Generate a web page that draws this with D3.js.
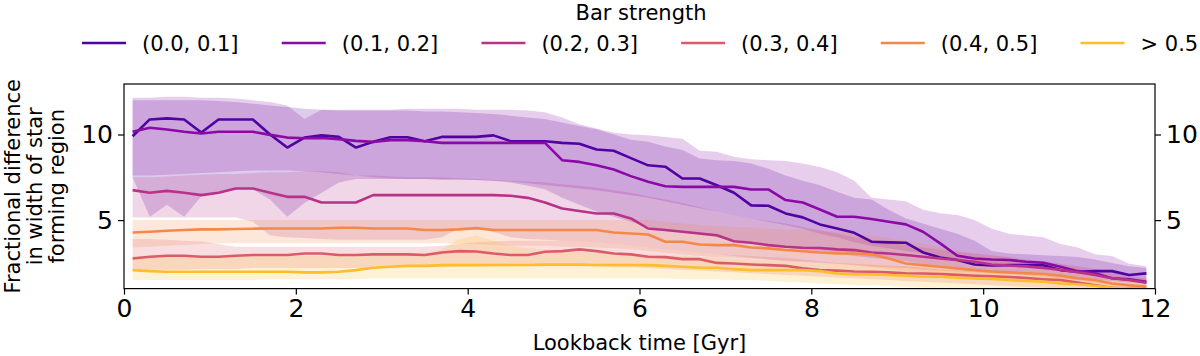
<!DOCTYPE html>
<html>
<head>
<meta charset="utf-8">
<script src="https://cdn.jsdelivr.net/npm/d3@7"></script>
<style>
  body { margin: 0; background: #fff; }
  svg { display: block; font-family: "DejaVu Sans", sans-serif; }
</style>
</head>
<body>
<div id="chart"></div>
<script>
// lookback time grid [Gyr]
const times = [0.1,0.3,0.5,0.7,0.9,1.1,1.3,1.5,1.7,1.9,
  2.1,2.3,2.5,2.7,2.9,3.1,3.3,3.5,3.7,3.9,
  4.1,4.3,4.5,4.7,4.9,5.1,5.3,5.5,5.7,5.9,
  6.1,6.3,6.5,6.7,6.9,7.1,7.3,7.5,7.7,7.9,
  8.1,8.3,8.5,8.7,8.9,9.1,9.3,9.5,9.7,9.9,
  10.1,10.3,10.5,10.7,10.9,11.1,11.3,11.5,11.7,11.9]

const categories = ["(0.0, 0.1]", "(0.1, 0.2]", "(0.2, 0.3]", "(0.3, 0.4]", "(0.4, 0.5]", "> 0.5"]
const xTicks = [0, 2, 4, 6, 8, 10, 12]
const yTicks = [5, 10]

// medians
const med1 = [9.9,10.88,10.94,10.88,10.12,10.88,10.88,10.88,10.0,9.24,
  9.82,9.95,9.86,9.24,9.57,9.84,9.84,9.6,9.86,9.86,
  9.86,9.95,9.61,9.61,9.61,9.51,9.46,9.12,9.05,8.62,
  8.2,8.12,7.43,7.43,7.04,6.6,5.86,5.84,5.39,5.16,
  4.75,4.51,4.26,3.74,3.7,3.68,3.11,2.82,2.67,2.41,
  2.35,2.37,2.37,2.37,2.08,1.98,2.02,2.02,1.79,1.89]
const med2 = [10.16,10.39,10.29,10.16,10.06,10.16,10.16,10.16,9.98,9.82,
  9.78,9.8,9.73,9.63,9.57,9.67,9.67,9.61,9.51,9.51,
  9.51,9.51,9.51,9.51,9.51,8.5,8.4,8.2,7.96,7.57,
  7.24,6.98,6.94,6.94,6.94,6.94,6.79,6.79,6.17,6.03,
  5.62,5.2,5.2,5.06,4.9,4.75,4.32,3.64,2.92,2.76,
  2.7,2.67,2.57,2.51,2.28,2.02,1.89,1.6,1.54,1.4]
const med3 = [6.75,6.6,6.71,6.6,6.46,6.6,6.85,6.85,6.6,6.36,
  6.36,6.03,6.03,6.03,6.46,6.46,6.46,6.46,6.46,6.46,
  6.46,6.46,6.42,6.3,6.03,5.68,5.53,5.39,5.39,5.1,
  4.51,4.42,4.32,4.22,4.12,3.77,3.68,3.54,3.44,3.39,
  3.37,3.29,3.25,3.11,3.05,2.96,2.86,2.76,2.67,2.57,
  2.41,2.35,2.3,2.2,2.1,1.95,1.8,1.6,1.5,1.35]
const med4 = [2.76,2.86,2.92,2.92,2.86,2.86,2.92,2.96,2.96,2.96,
  3.05,3.05,2.96,2.96,3.0,3.0,3.0,2.96,3.11,3.19,
  3.17,3.05,2.96,2.96,3.15,3.19,3.29,3.19,3.05,3.0,
  2.86,2.84,2.72,2.72,2.5,2.47,2.41,2.37,2.33,2.18,
  2.08,2.05,2.0,1.98,1.95,1.9,1.88,1.85,1.8,1.75,
  1.72,1.68,1.62,1.55,1.5,1.35,1.2,1.05,1.0,0.95]
const med5 = [4.28,4.32,4.38,4.42,4.46,4.46,4.48,4.5,4.51,4.51,
  4.51,4.51,4.55,4.55,4.51,4.51,4.51,4.42,4.42,4.46,
  4.53,4.42,4.42,4.42,4.42,4.42,4.42,4.42,4.28,4.22,
  4.16,3.74,3.74,3.58,3.54,3.54,3.4,3.35,3.25,3.19,
  3.11,3.05,3.05,3.0,2.76,2.47,2.37,2.28,2.18,2.08,
  2.0,1.95,1.9,1.85,1.75,1.6,1.5,1.3,1.2,1.1]
const med6 = [2.08,2.02,1.98,1.98,1.98,1.98,1.98,1.98,1.98,1.98,
  1.95,1.95,1.98,2.08,2.22,2.28,2.33,2.33,2.37,2.37,
  2.37,2.38,2.38,2.38,2.4,2.4,2.4,2.38,2.38,2.38,
  2.37,2.33,2.28,2.22,2.22,2.14,2.08,2.08,2.08,2.08,
  2.02,1.88,1.83,1.83,1.79,1.75,1.69,1.69,1.63,1.6,
  1.56,1.5,1.44,1.4,1.3,1.25,1.17,1.05,1.0,0.95]

// upper edges of the shaded spread
const hi1 = [12.0,12.0,12.0,12.0,12.0,11.95,11.9,11.8,11.7,11.6,
  11.5,11.45,11.4,11.4,11.4,11.4,11.4,11.35,11.35,11.3,
  11.25,11.2,11.1,11.0,10.9,10.7,10.5,10.3,10.0,9.7,
  9.57,9.3,9.1,8.6,8.5,8.45,8.3,8.0,7.6,7.3,
  7.04,6.65,6.3,6.2,5.6,5.1,4.8,4.5,4.2,3.8,
  3.2,3.05,3.0,2.95,2.9,2.85,2.7,2.5,2.3,2.2]
const hi2 = [12.15,12.15,12.2,12.2,12.15,12.15,12.1,12.0,11.9,11.7,
  10.9,11.45,11.45,11.45,11.45,11.45,11.5,11.5,11.5,11.5,
  11.45,11.45,11.45,11.4,11.3,11.0,10.6,10.35,10.1,10.0,
  9.96,9.85,9.75,9.05,9.0,8.7,8.55,8.5,8.46,8.3,
  8.1,7.8,7.3,6.3,6.2,6.1,5.6,5.4,5.3,5.0,
  4.5,4.2,4.1,4.0,3.6,3.4,3.0,2.9,2.45,2.3]
const hi3 = [7.5,7.5,7.55,7.6,7.65,7.7,7.7,7.75,7.8,7.8,
  7.85,7.85,7.8,7.6,7.6,7.55,7.5,7.5,7.5,7.45,
  7.4,7.35,7.3,7.25,7.2,7.1,7.0,6.9,6.75,6.6,
  6.4,6.2,6.0,5.75,5.5,5.3,5.1,4.95,4.8,4.6,
  4.4,4.2,4.0,3.85,3.7,3.55,3.4,3.25,3.15,3.05,
  2.95,2.85,2.7,2.6,2.45,2.3,2.15,1.95,1.75,1.6]
const hi4 = [3.9,3.9,3.85,3.8,3.75,3.6,3.45,3.45,3.45,3.45,
  3.45,3.45,3.45,3.45,3.45,3.45,3.45,3.45,3.5,3.6,
  3.7,3.75,3.8,3.8,3.8,3.8,3.75,3.7,3.6,3.5,
  3.4,3.3,3.2,3.1,3.0,2.95,2.9,2.85,2.8,2.7,
  2.6,2.5,2.45,2.4,2.35,2.3,2.2,2.1,2.05,2.0,
  1.95,1.9,1.85,1.75,1.7,1.6,1.45,1.3,1.2,1.1]
const hi5 = [5.0,5.0,5.0,5.0,5.0,5.0,5.0,5.0,5.0,5.0,
  5.0,5.0,5.0,5.0,5.0,5.0,5.0,5.0,5.0,5.0,
  5.0,5.0,5.0,5.0,5.0,5.0,5.0,5.0,5.0,5.0,
  5.0,4.9,4.8,4.7,4.65,4.6,4.55,4.5,4.45,4.45,
  4.4,4.3,4.2,4.1,3.95,3.8,3.6,3.4,3.2,3.05,
  2.95,2.8,2.65,2.5,2.35,2.2,2.0,1.8,1.6,1.5]
const hi6 = [2.9,2.9,2.9,2.9,2.9,2.9,2.9,2.9,2.9,2.9,
  2.9,2.9,2.9,2.9,2.95,3.0,3.0,3.05,3.3,3.9,
  4.1,3.8,3.5,3.35,3.25,3.2,3.15,3.1,3.05,3.0,
  3.0,2.95,2.9,2.85,2.8,2.75,2.7,2.65,2.6,2.55,
  2.5,2.45,2.4,2.35,2.3,2.25,2.2,2.15,2.1,2.05,
  2.0,1.95,1.9,1.8,1.7,1.6,1.5,1.4,1.3,1.25]

// lower edges of the shaded spread
const lo1 = [7.5,5.2,5.9,5.2,6.4,6.6,6.8,6.8,6.2,5.2,
  6.0,6.6,7.2,7.4,7.4,7.4,7.4,7.4,7.35,7.35,
  7.35,7.3,7.2,7.0,6.8,6.3,5.9,5.5,5.2,4.9,
  4.6,4.45,4.3,4.15,4.0,3.85,3.7,3.55,3.4,3.3,
  3.2,3.05,2.9,2.8,2.7,2.6,2.45,2.35,2.25,2.1,
  2.0,1.95,1.9,1.85,1.75,1.65,1.55,1.45,1.35,1.3]
const lo2 = [7.6,7.6,7.65,7.7,7.75,7.8,7.85,7.9,7.9,7.9,
  7.85,7.8,7.7,7.6,7.5,7.45,7.4,7.4,7.4,7.4,
  7.35,7.3,7.25,7.15,7.05,6.95,6.85,6.75,6.6,6.45,
  6.3,6.1,5.9,5.7,5.5,5.3,5.1,4.9,4.7,4.5,
  4.2,4.0,3.7,3.5,3.35,3.2,3.05,2.9,2.75,2.6,
  2.5,2.35,2.25,2.15,2.0,1.9,1.75,1.6,1.45,1.3]
const lo3 = [5.15,5.15,5.15,5.15,5.15,5.15,5.15,4.9,4.1,4.0,
  3.95,3.9,3.85,3.85,3.85,3.85,3.85,3.85,4.0,4.5,
  4.6,4.3,4.0,3.9,3.85,3.8,3.75,3.7,3.6,3.5,
  3.4,3.3,3.2,3.1,3.0,2.9,2.8,2.7,2.6,2.55,
  2.5,2.45,2.4,2.3,2.25,2.2,2.1,2.05,2.0,1.95,
  1.9,1.85,1.8,1.7,1.6,1.5,1.4,1.25,1.1,1.0]
const lo4 = [2.1,2.1,2.1,2.1,2.15,2.15,2.15,2.2,2.2,2.2,
  2.2,2.2,2.2,2.2,2.2,2.25,2.25,2.25,2.25,2.3,
  2.3,2.3,2.3,2.3,2.3,2.3,2.3,2.3,2.25,2.25,
  2.2,2.15,2.1,2.05,2.0,1.95,1.9,1.85,1.8,1.75,
  1.7,1.65,1.6,1.55,1.5,1.45,1.4,1.35,1.3,1.25,
  1.2,1.15,1.1,1.05,1.0,0.95,0.9,0.85,0.8,0.8]
const lo5 = [3.4,3.45,3.5,3.55,3.6,3.65,3.65,3.65,3.65,3.65,
  3.65,3.65,3.65,3.65,3.65,3.65,3.65,3.65,3.65,3.6,
  3.6,3.55,3.5,3.5,3.5,3.45,3.45,3.4,3.35,3.3,
  3.2,3.1,3.0,2.9,2.85,2.8,2.75,2.7,2.65,2.6,
  2.55,2.45,2.35,2.25,2.15,2.0,1.9,1.8,1.7,1.6,
  1.55,1.5,1.4,1.35,1.3,1.2,1.1,1.0,0.95,0.9]
const lo6 = [1.5,1.5,1.5,1.5,1.5,1.5,1.5,1.5,1.55,1.55,
  1.55,1.55,1.55,1.55,1.6,1.6,1.6,1.6,1.6,1.6,
  1.6,1.6,1.6,1.6,1.6,1.6,1.6,1.6,1.6,1.6,
  1.6,1.6,1.55,1.55,1.55,1.5,1.5,1.45,1.4,1.35,
  1.3,1.25,1.2,1.2,1.15,1.1,1.05,1.0,1.0,0.95,
  0.9,0.9,0.85,0.85,0.8,0.8,0.8,0.8,0.8,0.8]

const medians = [med1, med2, med3, med4, med5, med6]
const uppers = [hi1, hi2, hi3, hi4, hi5, hi6]
const lowers = [lo1, lo2, lo3, lo4, lo5, lo6]
const colors = ["#5002a2", "#8b0aa5", "#b83289", "#db5c68", "#f48849", "#febd2a"]

const W = 1200, H = 356
const plot = {left: 124, right: 1155, top: 84, bottom: 288.6}

const svg = d3.select("#chart").append("svg")
  .attr("width", W)
  .attr("height", H)

const x = d3.scaleLinear().domain([0, 12]).range([plot.left, plot.right])
const y = d3.scaleLinear().domain([1.0, 12.95]).range([plot.bottom, plot.top])

svg.append("clipPath").attr("id", "clip")
  .append("rect")
    .attr("x", plot.left)
    .attr("y", plot.top)
    .attr("width", plot.right - plot.left)
    .attr("height", plot.bottom - plot.top)

const series = categories.map((name, k) => ({
  name: name,
  color: colors[k],
  pts: times.map((t, i) => ({t: t, m: medians[k][i], lo: lowers[k][i], hi: uppers[k][i]}))
}))

const g = svg.append("g").attr("clip-path", "url(#clip)")

const area = d3.area()
  .x((d) => x(d.t))
  .y0((d) => y(d.lo))
  .y1((d) => y(d.hi))

const line = d3.line()
  .x((d) => x(d.t))
  .y((d) => y(d.m))

g.selectAll("path.band")
  .data(series)
  .enter()
  .append("path")
    .attr("class", "band")
    .attr("d", (d) => area(d.pts))
    .attr("fill", (d) => d.color)
    .attr("fill-opacity", 0.2)

g.selectAll("path.med")
  .data(series)
  .enter()
  .append("path")
    .attr("class", "med")
    .attr("d", (d) => line(d.pts))
    .attr("fill", "none")
    .attr("stroke", (d) => d.color)
    .attr("stroke-width", 2.6)
    .attr("stroke-linejoin", "round")

// axes
const styleAxis = (sel) => {
  sel.select(".domain").remove()
  sel.selectAll("line").attr("stroke", "#000").attr("stroke-width", 1.2)
  sel.selectAll("text").attr("fill", "#000").style("font-size", "25px")
    .style("font-family", "DejaVu Sans")
}

svg.append("g")
  .attr("transform", `translate(0,${plot.bottom})`)
  .call(d3.axisBottom(x).tickValues(xTicks).tickFormat(d3.format("d")).tickSize(6).tickPadding(5))
  .call(styleAxis)

svg.append("g")
  .attr("transform", `translate(${plot.left},0)`)
  .call(d3.axisLeft(y).tickValues(yTicks).tickFormat(d3.format("d")).tickSize(6).tickPadding(5))
  .call(styleAxis)

svg.append("g")
  .attr("transform", `translate(${plot.right},0)`)
  .call(d3.axisRight(y).tickValues(yTicks).tickFormat(d3.format("d")).tickSize(6).tickPadding(5))
  .call(styleAxis)

svg.append("rect")
  .attr("x", plot.left)
  .attr("y", plot.top)
  .attr("width", plot.right - plot.left)
  .attr("height", plot.bottom - plot.top)
  .attr("fill", "none")
  .attr("stroke", "#000")
  .attr("stroke-width", 1.2)

// axis labels
svg.append("text")
  .attr("x", (plot.left + plot.right) / 2)
  .attr("y", 350)
  .attr("text-anchor", "middle")
  .style("font-size", "21px")
  .text("Lookback time [Gyr]")

const ylab = ["Fractional difference", "in width of star", "forming region"]
svg.append("g")
  .attr("transform", `translate(20,${(plot.top + plot.bottom) / 2}) rotate(-90)`)
  .selectAll("text")
  .data(ylab)
  .enter()
  .append("text")
    .attr("x", 0)
    .attr("y", (d, i) => i * 22)
    .attr("text-anchor", "middle")
    .style("font-size", "21px")
    .text((d) => d)

// legend
svg.append("text")
  .attr("x", 641)
  .attr("y", 20)
  .attr("text-anchor", "middle")
  .style("font-size", "21px")
  .text("Bar strength")

const leg = svg.selectAll("g.leg")
  .data(series)
  .enter()
  .append("g")
    .attr("class", "leg")
    .attr("transform", (d, i) => `translate(${82 + i * 199.7},43)`)

leg.append("line")
  .attr("x1", 0).attr("x2", 44)
  .attr("y1", 0).attr("y2", 0)
  .attr("stroke", (d) => d.color)
  .attr("stroke-width", 2.6)

leg.append("text")
  .attr("x", 60)
  .attr("y", 7.5)
  .style("font-size", "21px")
  .text((d) => d.name)
</script>
</body>
</html>
